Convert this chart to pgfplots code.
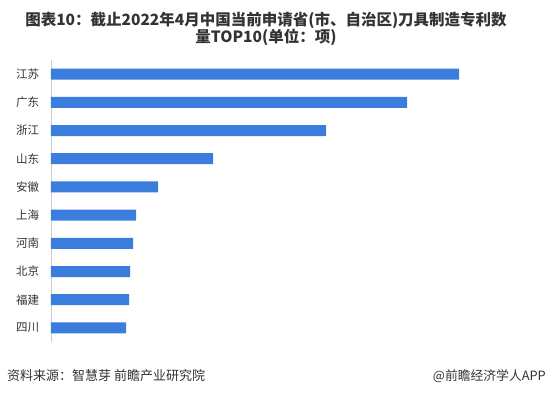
\documentclass[border=0pt]{standalone}
\usepackage{pgfplots}
\pgfplotsset{compat=1.18}
\usepackage{fontspec}
\setmainfont{Noto Sans CJK SC}
\definecolor{barblue}{RGB}{59,125,221}
\definecolor{txt}{RGB}{51,51,51}
\begin{document}
\begin{tikzpicture}[x=1pt,y=1pt]
\path (0,0) rectangle (553,399);
\node[font=\bfseries\fontsize{15.5}{17}\selectfont, text=txt, align=center] at (266,370.5) {图表10：截止2022年4月中国当前申请省(市、自治区)刀具制造专利数\\量TOP10(单位：项)};
\begin{axis}[
  at={(51pt,57pt)}, anchor=south west,
  scale only axis, width=450pt, height=282pt,
  xmin=0, xmax=450, ymin=-0.5, ymax=9.5,
  y dir=reverse,
  hide x axis,
  axis y line*=left,
  y axis line style={draw=black!20, line width=0.6pt},
  ytick={0,...,9},
  yticklabels={江苏,广东,浙江,山东,安徽,上海,河南,北京,福建,四川},
  ytick style={draw=none},
  yticklabel style={font=\fontsize{11.5}{13}\selectfont, text=txt, xshift=-4pt},
  xbar, bar width=11pt,
]
\addplot[fill=barblue, draw=none] coordinates {(408,0) (356,1) (275,2) (162,3) (107,4) (85,5) (82,6) (79,7) (78,8) (75,9)};
\end{axis}
\node[anchor=west, font=\fontsize{13}{15}\selectfont, text=txt, inner sep=0pt] at (7,23.5) {资料来源：智慧芽 前瞻产业研究院};
\node[anchor=east, font=\fontsize{12.8}{15}\selectfont, text=txt, inner sep=0pt] at (546,22.5) {@前瞻经济学人APP};
\end{tikzpicture}
\end{document}
